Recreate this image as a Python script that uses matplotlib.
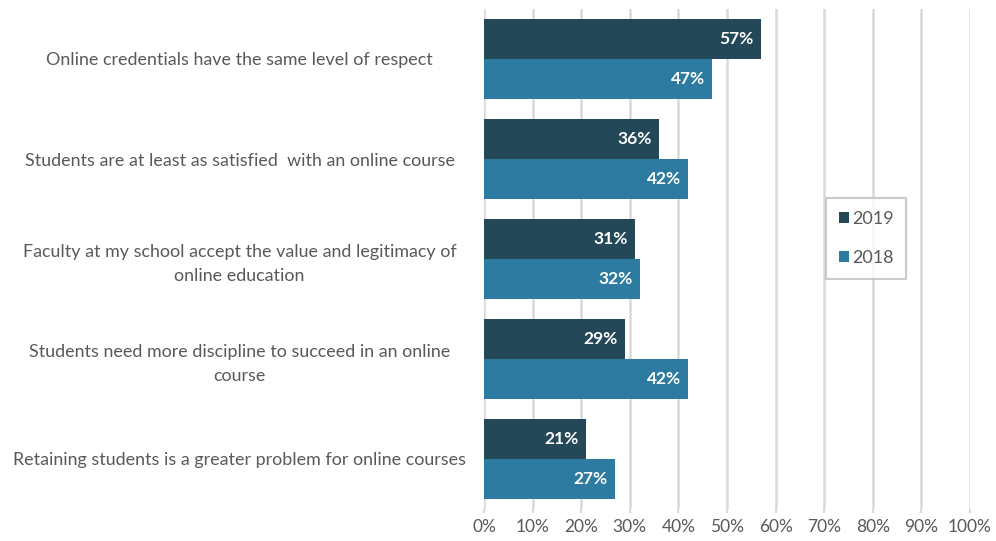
import matplotlib.pyplot as plt
import numpy as np

categories = [
    "Online credentials have the same level of respect",
    "Students are at least as satisfied  with an online course",
    "Faculty at my school accept the value and legitimacy of\nonline education",
    "Students need more discipline to succeed in an online\ncourse",
    "Retaining students is a greater problem for online courses",
]
vals_2019 = [57, 36, 31, 29, 21]
vals_2018 = [47, 42, 32, 42, 27]
series_names = ["2019", "2018"]
colors = ["#244858", "#2d7ba0"]

plt.rcParams['font.family'] = ['Lato', 'DejaVu Sans']

fig = plt.figure(figsize=(9.96, 5.41), dpi=100)
ax = fig.add_axes([484 / 996, 1 - 509 / 541, 486 / 996, 500 / 541])

y = np.arange(len(categories))
h = 0.4
b1 = ax.barh(y - h / 2, vals_2019, height=h, color=colors[0], label=series_names[0], zorder=3)
b2 = ax.barh(y + h / 2, vals_2018, height=h, color=colors[1], label=series_names[1], zorder=3)

for bars, vals in [(b1, vals_2019), (b2, vals_2018)]:
    for bar, v in zip(bars, vals):
        ax.text(v - 1.5, bar.get_y() + bar.get_height() / 2, f"{v}%", ha='right', va='center',
                color='white', fontweight='bold', fontsize=12.5, zorder=4)

ax.set_ylim(len(categories) - 0.5, -0.5)
ax.set_xlim(0, 100)
ax.set_xticks(np.arange(0, 101, 10))
ax.set_xticklabels([f"{t}%" for t in range(0, 101, 10)], color='#595959', fontsize=12.5)
ax.set_yticks(y)
ax.set_yticklabels(categories, color='#595959', fontsize=12.9, ha='center',
                   multialignment='center', linespacing=1.55)
ax.tick_params(axis='y', length=0, pad=176)
ax.tick_params(axis='x', length=3, color='#d9d9d9', width=1.5, pad=4)
ax.grid(axis='x', color='#d9d9d9', linewidth=1.8, zorder=0)
for s in ax.spines.values():
    s.set_visible(False)

leg = ax.legend(loc='upper left', bbox_to_anchor=(342 / 486, 1 - 189 / 500), frameon=True,
                fancybox=False, edgecolor='#bfbfbf', fontsize=13, handlelength=0.6,
                handleheight=0.6, handletextpad=0.15, labelspacing=1.3, borderpad=0.7,
                borderaxespad=0.0, labelcolor='#595959')
leg.get_frame().set_linewidth(1.5)

fig.savefig("out.png", dpi=100)
